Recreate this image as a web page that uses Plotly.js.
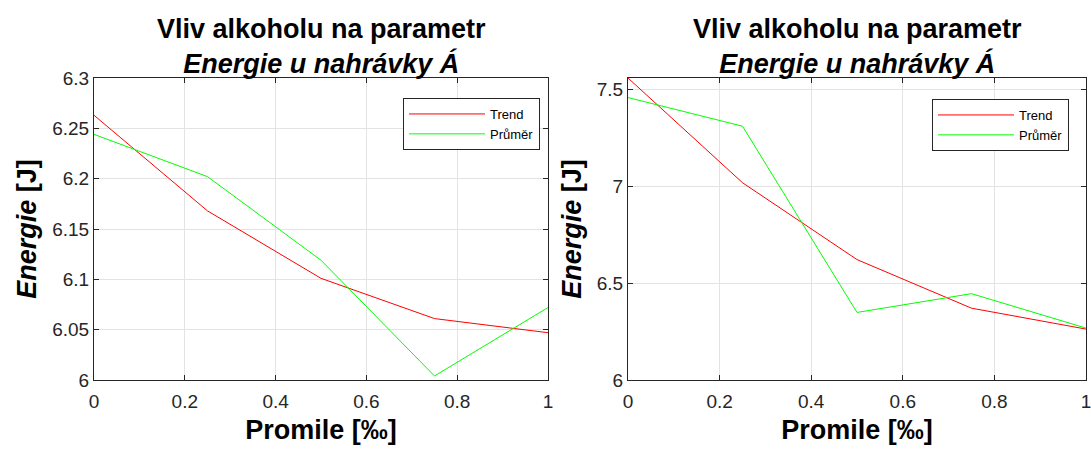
<!DOCTYPE html>
<html>
<head>
<meta charset="utf-8">
<script src="https://cdn.plot.ly/plotly-3.0.1.min.js"></script>
<style>html,body{margin:0;padding:0;background:#fff;}#chart{width:1091px;height:450px;}</style>
</head>
<body>
<div id="chart"></div>
<script>
// Data
const promile = [0, 0.25, 0.5, 0.75, 1];
const trendLeft = [6.263, 6.168, 6.101, 6.061, 6.047];
const prumerLeft = [6.244, 6.202, 6.119, 6.004, 6.072];
const trendRight = [7.56, 7.019, 6.622, 6.371, 6.263];
const prumerRight = [7.459, 7.311, 6.349, 6.446, 6.268];
const seriesNames = ["Trend", "Průměr"];
const titleLine1 = "Vliv alkoholu na parametr";
const titleLine2 = "Energie u nahrávky Á";
const xTitle = "Promile [‰]";
const yTitleItalic = "Energie";
const yTitleRest = " [J]";
const leftYTicks = [6, 6.05, 6.1, 6.15, 6.2, 6.25, 6.3];
const rightYTicks = [6, 6.5, 7, 7.5];
const xTicks = [0, 0.2, 0.4, 0.6, 0.8, 1];

const FONT = "Liberation Sans, Arial, sans-serif";
const RED = "#ff0000", GREEN = "#00ff00";

const traces = [
  {x: promile, y: trendLeft, name: seriesNames[0], type: "scatter", mode: "lines", line: {color: RED, width: 1}, xaxis: "x", yaxis: "y", legend: "legend"},
  {x: promile, y: prumerLeft, name: seriesNames[1], type: "scatter", mode: "lines", line: {color: GREEN, width: 1}, xaxis: "x", yaxis: "y", legend: "legend"},
  {x: promile, y: trendRight, name: seriesNames[0], type: "scatter", mode: "lines", line: {color: RED, width: 1}, xaxis: "x2", yaxis: "y2", legend: "legend2"},
  {x: promile, y: prumerRight, name: seriesNames[1], type: "scatter", mode: "lines", line: {color: GREEN, width: 1}, xaxis: "x2", yaxis: "y2", legend: "legend2"}
];

function axBase() {
  return {
    showline: true, linecolor: "#262626", linewidth: 1, mirror: "ticks",
    ticks: "inside", ticklen: 5, tickcolor: "#262626", tickwidth: 1,
    showgrid: true, gridcolor: "#e3e3e3", gridwidth: 1,
    zeroline: false, automargin: false, ticklabeloverflow: "allow",
    tickfont: {family: FONT, size: 19, color: "#262626"}
  };
}

const yDom = [1 - 380/450, 1 - 78/450];
const xDomL = [94/1091, 548/1091];
const xDomR = [628/1091, 1086/1091];

const xTitleObj = {text: "<b>" + xTitle + "</b>", font: {family: FONT, size: 27, color: "#000"}, standoff: 9};
const yTitleObj = {text: "<b><i>" + yTitleItalic + "</i>" + yTitleRest + "</b>", font: {family: FONT, size: 27, color: "#000"}, standoff: 7};

const legendBase = {
  bgcolor: "#ffffff", bordercolor: "#262626", borderwidth: 1,
  font: {family: FONT, size: 13, color: "#000"},
  xanchor: "right", yanchor: "top", tracegroupgap: 0, itemwidth: 76
};

const layout = {
  width: 1091, height: 450,
  margin: {l: 0, r: 0, t: 0, b: 0},
  paper_bgcolor: "#ffffff", plot_bgcolor: "#ffffff",
  showlegend: true,
  xaxis: Object.assign(axBase(), {domain: xDomL, range: [0, 1], tickvals: xTicks, ticktext: xTicks.map(String), anchor: "y", ticklabelstandoff: 4, title: xTitleObj}),
  yaxis: Object.assign(axBase(), {domain: yDom, range: [6, 6.3], tickvals: leftYTicks, ticktext: leftYTicks.map(String), anchor: "x", title: yTitleObj}),
  xaxis2: Object.assign(axBase(), {domain: xDomR, range: [0, 1], tickvals: xTicks, ticktext: xTicks.map(String), anchor: "y2", ticklabelstandoff: 4, title: xTitleObj}),
  yaxis2: Object.assign(axBase(), {domain: yDom, range: [6, 7.56], tickvals: rightYTicks, ticktext: rightYTicks.map(String), anchor: "x2", title: yTitleObj}),
  legend: Object.assign({}, legendBase, {x: 540/1091, y: 1 - 98/450}),
  legend2: Object.assign({}, legendBase, {x: 1069/1091, y: 1 - 99/450}),
  annotations: [
    {xref: "paper", yref: "paper", x: (xDomL[0] + xDomL[1]) / 2, y: yDom[1] - 3/450, xanchor: "center", yanchor: "bottom", showarrow: false,
     text: "<b>" + titleLine1 + "</b><br><b><i>" + titleLine2 + "</i></b>", font: {family: FONT, size: 27, color: "#000"}},
    {xref: "paper", yref: "paper", x: (xDomR[0] + xDomR[1]) / 2, y: yDom[1] - 3/450, xanchor: "center", yanchor: "bottom", showarrow: false,
     text: "<b>" + titleLine1 + "</b><br><b><i>" + titleLine2 + "</i></b>", font: {family: FONT, size: 27, color: "#000"}}
  ]
};

Plotly.newPlot("chart", traces, layout, {displayModeBar: false, staticPlot: true});
</script>
</body>
</html>
